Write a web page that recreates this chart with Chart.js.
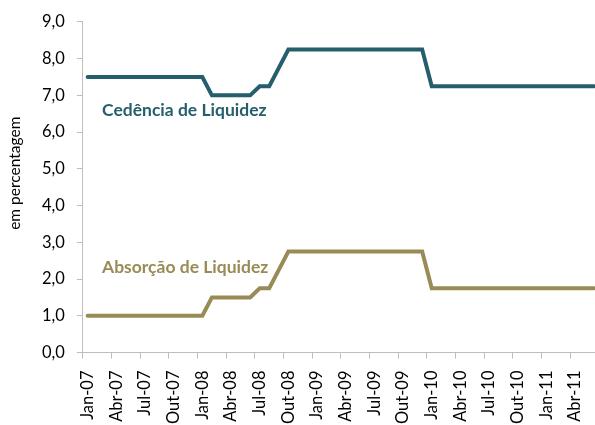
<!DOCTYPE html>
<html>
<head>
<meta charset="utf-8">
<script src="https://cdn.jsdelivr.net/npm/chart.js@4.4.1/dist/chart.umd.min.js"></script>
<style>
  html, body { margin: 0; padding: 0; background: #ffffff; overflow: hidden; }
  #wrap { width: 595px; height: 425px; position: relative; overflow: hidden; }
</style>
</head>
<body>
<div id="wrap"><canvas id="c" width="626" height="436"></canvas></div>
<script>
// Months Jan-07 .. Jun-11 (monthly)
const months = [
  "Jan-07","Fev-07","Mar-07","Abr-07","Mai-07","Jun-07","Jul-07","Ago-07","Set-07","Out-07","Nov-07","Dez-07",
  "Jan-08","Fev-08","Mar-08","Abr-08","Mai-08","Jun-08","Jul-08","Ago-08","Set-08","Out-08","Nov-08","Dez-08",
  "Jan-09","Fev-09","Mar-09","Abr-09","Mai-09","Jun-09","Jul-09","Ago-09","Set-09","Out-09","Nov-09","Dez-09",
  "Jan-10","Fev-10","Mar-10","Abr-10","Mai-10","Jun-10","Jul-10","Ago-10","Set-10","Out-10","Nov-10","Dez-10",
  "Jan-11","Fev-11","Mar-11","Abr-11","Mai-11","Jun-11"
];

const cedencia = [
  7.5,7.5,7.5,7.5,7.5,7.5,7.5,7.5,7.5,7.5,7.5,7.5,
  7.5,7.0,7.0,7.0,7.0,7.0,7.25,7.25,7.75,8.25,8.25,8.25,
  8.25,8.25,8.25,8.25,8.25,8.25,8.25,8.25,8.25,8.25,8.25,8.25,
  7.25,7.25,7.25,7.25,7.25,7.25,7.25,7.25,7.25,7.25,7.25,7.25,
  7.25,7.25,7.25,7.25,7.25,7.25
];

const absorcao = [
  1.0,1.0,1.0,1.0,1.0,1.0,1.0,1.0,1.0,1.0,1.0,1.0,
  1.0,1.5,1.5,1.5,1.5,1.5,1.75,1.75,2.25,2.75,2.75,2.75,
  2.75,2.75,2.75,2.75,2.75,2.75,2.75,2.75,2.75,2.75,2.75,2.75,
  1.75,1.75,1.75,1.75,1.75,1.75,1.75,1.75,1.75,1.75,1.75,1.75,
  1.75,1.75,1.75,1.75,1.75,1.75
];

const seriesNames = ["Cedência de Liquidez", "Absorção de Liquidez"];
const yTitle = "em percentagem";
const yTicks = [0,1,2,3,4,5,6,7,8,9];

const colCed = "#255e6c";
const colAbs = "#998b55";
const axisCol = "#bfbfbf";
const FONT = "Lato, 'Open Sans', sans-serif";

const labelPlugin = {
  id: 'seriesLabels',
  afterDraw(chart) {
    const ctx = chart.ctx;
    const xs = chart.scales.x, ys = chart.scales.y;
    ctx.save();
    ctx.font = "bold 17.5px " + FONT;
    ctx.textAlign = 'left';
    ctx.textBaseline = 'alphabetic';
    ctx.fillStyle = colCed;
    ctx.fillText(seriesNames[0], xs.getPixelForValue(1.5), ys.getPixelForValue(6.44));
    ctx.fillStyle = colAbs;
    ctx.fillText(seriesNames[1], xs.getPixelForValue(1.5), ys.getPixelForValue(2.17));
    // y axis title
    ctx.font = "15.5px " + FONT;
    ctx.fillStyle = "#000000";
    ctx.textAlign = 'center';
    ctx.textBaseline = 'middle';
    ctx.translate(15, (chart.chartArea.top + chart.chartArea.bottom) / 2 - 14);
    ctx.rotate(-Math.PI / 2);
    ctx.fillText(yTitle, 0, 0);
    ctx.restore();
  }
};

new Chart(document.getElementById('c'), {
  type: 'line',
  data: {
    labels: months,
    datasets: [
      { label: seriesNames[0], data: cedencia, borderColor: colCed, borderWidth: 4, pointRadius: 0, tension: 0, fill: false, borderCapStyle: 'round', borderJoinStyle: 'miter' },
      { label: seriesNames[1], data: absorcao, borderColor: colAbs, borderWidth: 4, pointRadius: 0, tension: 0, fill: false, borderCapStyle: 'round', borderJoinStyle: 'miter' }
    ]
  },
  options: {
    responsive: false,
    animation: false,
    layout: { padding: { left: 30, right: 0, top: 12, bottom: 0 } },
    plugins: { legend: { display: false }, tooltip: { enabled: false } },
    scales: {
      x: {
        type: 'category',
        offset: true,
        grid: {
          offset: true,
          drawOnChartArea: false,
          drawTicks: true,
          tickLength: 6,
          color: (c) => (c.index % 3 === 0 ? axisCol : 'rgba(0,0,0,0)')
        },
        border: { display: true, color: axisCol, width: 1 },
        ticks: {
          autoSkip: false,
          minRotation: 90,
          maxRotation: 90,
          padding: 12,
          color: '#000000',
          font: { family: FONT, size: 16.5 },
          callback: function(v, i) { return i % 3 === 0 ? months[i] : ''; }
        }
      },
      y: {
        min: 0,
        max: 9,
        afterBuildTicks: (s) => { s.ticks = yTicks.map(v => ({ value: v })); },
        grid: { drawOnChartArea: false, drawTicks: true, tickLength: 6, color: axisCol },
        border: { display: true, color: axisCol, width: 1 },
        ticks: {
          padding: 12,
          color: '#000000',
          font: { family: FONT, size: 16.5 },
          callback: (v) => Number(v).toFixed(1).replace('.', ',')
        }
      }
    }
  },
  plugins: [labelPlugin]
});
</script>
</body>
</html>
